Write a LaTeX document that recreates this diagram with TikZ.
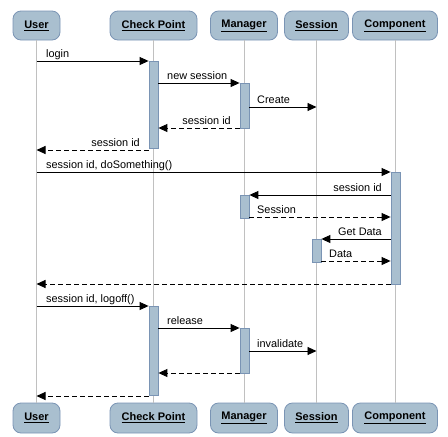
\documentclass[tikz,border=0pt]{standalone}
\usepackage{fontspec}
\setmainfont{Liberation Sans}
\usetikzlibrary{arrows.meta}
\definecolor{boxfill}{RGB}{169,191,207}
\definecolor{boxline}{RGB}{122,148,180}
\definecolor{lifeline}{RGB}{192,192,192}
\begin{document}
\begin{tikzpicture}[x=1pt,y=-1pt,
  actor/.style={draw=boxline,fill=boxfill,rounded corners=8pt,minimum height=29pt,inner sep=0pt,line width=0.8pt,font=\fontsize{11}{13}\selectfont\bfseries},
  act/.style={draw=boxline,fill=boxfill,minimum width=9pt,inner sep=0pt,line width=0.8pt},
  life/.style={draw=lifeline,line width=0.9pt},
  msg/.style={draw=black,line width=0.9pt,-{Triangle[length=9pt,width=8pt]}},
  ret/.style={msg,dash pattern=on 5pt off 3pt},
  lbl/.style={font=\fontsize{10.9}{12}\selectfont,inner sep=0pt}]
\useasboundingbox (0,0) rectangle (448,437);
% header boxes
\node[actor,minimum width=47pt] (uT) at (36.5,25.5) {\underline{User}};
\node[actor,minimum width=87pt] (cT) at (153.5,25.5) {\underline{Check Point}};
\node[actor,minimum width=67pt] (mT) at (244,25.5) {\underline{Manager}};
\node[actor,minimum width=64pt] (sT) at (316.5,25.5) {\underline{Session}};
\node[actor,minimum width=85pt] (kT) at (395,25.5) {\underline{Component}};
% footer boxes
\node[actor,minimum width=47pt,minimum height=30pt] (uB) at (36.5,418) {\underline{User}};
\node[actor,minimum width=87pt,minimum height=30pt] (cB) at (153.5,418) {\underline{Check Point}};
\node[actor,minimum width=67pt,minimum height=30pt] (mB) at (244,418) {\underline{Manager}};
\node[actor,minimum width=64pt,minimum height=30pt] (sB) at (316.5,418) {\underline{Session}};
\node[actor,minimum width=85pt,minimum height=30pt] (kB) at (395,418) {\underline{Component}};
% lifelines
\draw[life] (uT.south) -- (uB.north);
\draw[life] (cT.south) -- (cB.north);
\draw[life] (mT.south) -- (mB.north);
\draw[life] (sT.south) -- (sB.north);
\draw[life] (kT.south) -- (kB.north);
% activations
\node[act,minimum height=87pt,anchor=north] (cp1) at (153.5,61) {};
\node[act,minimum height=45pt,anchor=north] (mg1) at (244.5,83) {};
\node[act,minimum height=112pt,anchor=north] (co1) at (395.5,172) {};
\node[act,minimum height=23pt,anchor=north] (mg2) at (244.5,195) {};
\node[act,minimum height=23pt,anchor=north] (se1) at (316.5,239) {};
\node[act,minimum height=89pt,anchor=north] (cp2) at (153.5,306) {};
\node[act,minimum height=45pt,anchor=north] (mg3) at (244.5,328) {};
% messages
\draw[msg] (uT.south |- 0,61) -- (cp1.west |- 0,61);
\node[lbl,anchor=base west] (l1) at (46,57) {login};
\draw[msg] (cp1.east |- 0,83) -- (mg1.west |- 0,83);
\node[lbl,anchor=base west] (l2) at (167,79) {new session};
\draw[msg] (mg1.east |- 0,107) -- (sT.south |- 0,107);
\node[lbl,anchor=base west] (l3) at (257,103) {Create};
\draw[ret] (mg1.west |- 0,128) -- (cp1.east |- 0,128);
\node[lbl,anchor=base east] (l4) at (231,124) {session id};
\draw[ret] (cp1.west |- 0,150) -- (uT.south |- 0,150);
\node[lbl,anchor=base east] (l5) at (140,146) {session id};
\draw[msg] (uT.south |- 0,172) -- (co1.west |- 0,172);
\node[lbl,anchor=base west] (l6) at (46,168) {session id, doSomething()};
\draw[msg] (co1.west |- 0,195) -- (mg2.east |- 0,195);
\node[lbl,anchor=base east] (l7) at (382,191) {session id};
\draw[ret] (mg2.east |- 0,217) -- (co1.west |- 0,217);
\node[lbl,anchor=base west] (l8) at (257,213) {Session};
\draw[msg] (co1.west |- 0,239) -- (se1.east |- 0,239);
\node[lbl,anchor=base east] (l9) at (382,235) {Get Data};
\draw[ret] (se1.east |- 0,261) -- (co1.west |- 0,261);
\node[lbl,anchor=base west] (l10) at (329,257) {Data};
\draw[ret] (co1.west |- 0,284) -- (uT.south |- 0,284);
\draw[msg] (uT.south |- 0,306) -- (cp2.west |- 0,306);
\node[lbl,anchor=base west] (l12) at (46,302) {session id, logoff()};
\draw[msg] (cp2.east |- 0,328) -- (mg3.west |- 0,328);
\node[lbl,anchor=base west] (l13) at (167,324) {release};
\draw[msg] (mg3.east |- 0,351) -- (sT.south |- 0,351);
\node[lbl,anchor=base west] (l14) at (257,347) {invalidate};
\draw[ret] (mg3.west |- 0,373) -- (cp2.east |- 0,373);
\draw[ret] (cp2.west |- 0,396) -- (uT.south |- 0,396);
\end{tikzpicture}
\end{document}
